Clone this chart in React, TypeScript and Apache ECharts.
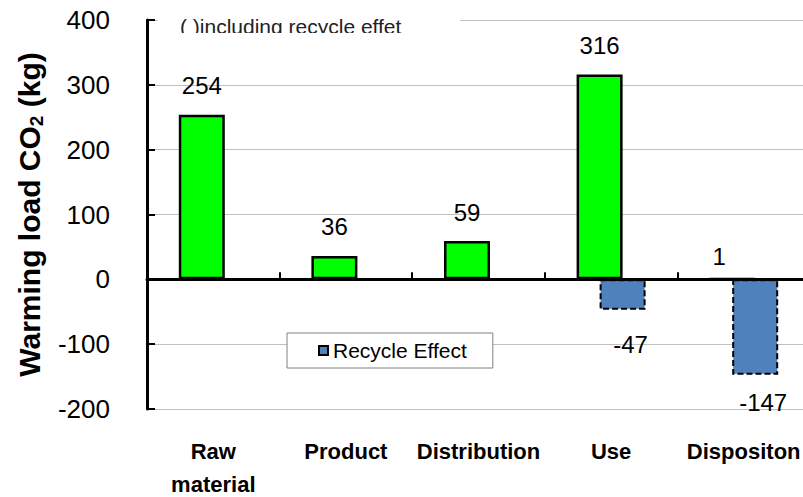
import React, { useEffect, useRef } from 'react';
import * as echarts from 'echarts';

const categories = ['Raw\nmaterial', 'Product', 'Distribution', 'Use', 'Dispositon'];
const warmingLoad: number[] = [254, 36, 59, 316, 1];
const recycleEffect: (number | null)[] = [null, null, null, -47, -147];
const yMin = -200;
const yMax = 400;
const yInterval = 100;
const legendLabel = 'Recycle Effect';
const noteText = '( )including recycle effet';
const axisNameRich = '{a|Warming load CO}{s|2}{a| (kg)}';

const FONT = '"Liberation Sans", Arial, Helvetica, sans-serif';

// label placement tweaks (index -> label overrides)
const greenLabelTweaks: Record<number, any> = {
  4: { distance: 9, offset: [-13, 0] },
};
const blueLabelTweaks: Record<number, any> = {
  3: { distance: 23 },
  4: { distance: 16 },
};

export default function App() {
  const ref = useRef<HTMLDivElement>(null);

  useEffect(() => {
    document.body.style.margin = '0';
    if (!ref.current) return;
    const chart = echarts.init(ref.current, undefined, { renderer: 'svg' });

    const option: any = {
      animation: false,
      backgroundColor: '#ffffff',
      textStyle: { fontFamily: FONT },
      grid: {
        left: 147,
        top: 20,
        width: 663,
        height: 389,
        containLabel: false,
        outerBoundsMode: 'none',
      },
      legend: {
        data: [legendLabel],
        left: 287,
        top: 333,
        orient: 'horizontal',
        backgroundColor: '#ffffff',
        borderColor: '#808080',
        borderWidth: 1,
        padding: [7, 26, 7, 31],
        itemWidth: 9,
        itemHeight: 9,
        icon: 'rect',
        selectedMode: false,
        itemStyle: { color: '#4F81BD', borderColor: '#000', borderWidth: 2, borderType: 'solid' },
        textStyle: { fontSize: 21, color: '#000', fontFamily: FONT },
      },
      xAxis: [
        {
          type: 'category',
          data: categories,
          position: 'bottom',
          axisLine: { show: false, onZero: false },
          axisTick: { show: false },
          splitLine: { show: false },
          axisLabel: {
            interval: 0,
            fontSize: 22,
            fontWeight: 'bold',
            color: '#000',
            lineHeight: 33,
            margin: 26,
            fontFamily: FONT,
          },
        },
        {
          type: 'category',
          data: categories,
          position: 'bottom',
          z: 10,
          axisLine: { show: true, onZero: true, lineStyle: { color: '#000', width: 3 } },
          axisTick: { show: true, inside: true, length: 7, lineStyle: { color: '#000', width: 2 } },
          axisLabel: { show: false },
          splitLine: { show: false },
        },
      ],
      yAxis: {
        type: 'value',
        min: yMin,
        max: yMax,
        interval: yInterval,
        name: axisNameRich,
        nameLocation: 'middle',
        nameRotate: 90,
        nameGap: 101,
        nameTextStyle: {
          color: '#000',
          fontFamily: FONT,
          padding: [0, 0, 0, 0],
          rich: {
            a: { fontSize: 30, fontWeight: 'bold', color: '#000', fontFamily: FONT, lineHeight: 34 },
            s: {
              fontSize: 19,
              fontWeight: 'bold',
              color: '#000',
              fontFamily: FONT,
              lineHeight: 19,
              verticalAlign: 'bottom',
            },
          },
        },
        axisLine: { show: true, onZero: false, lineStyle: { color: '#000', width: 3 } },
        axisTick: { show: true, inside: true, length: 8, lineStyle: { color: '#000', width: 2 } },
        axisLabel: { fontSize: 26, color: '#000', margin: 37, fontFamily: FONT },
        splitLine: { show: true, lineStyle: { color: '#c0c0c0', width: 1 } },
      },
      series: [
        {
          type: 'bar',
          name: 'Warming load',
          xAxisIndex: 0,
          yAxisIndex: 0,
          barWidth: 46,
          barGap: '-50%',
          data: warmingLoad.map((v, i) =>
            greenLabelTweaks[i] ? { value: v, label: greenLabelTweaks[i] } : v
          ),
          itemStyle: { color: '#00FF00', borderColor: '#000', borderWidth: 2.5 },
          label: {
            show: true,
            position: 'top',
            distance: 17,
            fontSize: 24,
            color: '#000',
            fontFamily: FONT,
          },
        },
        {
          type: 'bar',
          name: legendLabel,
          xAxisIndex: 0,
          yAxisIndex: 0,
          barWidth: 46,
          data: recycleEffect.map((v, i) =>
            v === null ? null : blueLabelTweaks[i] ? { value: v, label: blueLabelTweaks[i] } : v
          ),
          itemStyle: { color: '#4F81BD', borderColor: '#000', borderWidth: 2, borderType: [6, 3] },
          label: {
            show: true,
            position: 'bottom',
            distance: 16,
            offset: [8, 0],
            fontSize: 24,
            color: '#000',
            fontFamily: FONT,
          },
        },
      ],
      graphic: [
        {
          type: 'rect',
          z: 50,
          shape: { x: 158, y: 8, width: 302, height: 25 },
          style: { fill: '#ffffff' },
        },
        {
          type: 'text',
          z: 51,
          x: 180,
          y: 26,
          style: {
            text: noteText,
            fontSize: 21,
            fontFamily: FONT,
            fill: '#222',
            verticalAlign: 'middle',
            align: 'left',
          },
        },
        {
          type: 'rect',
          z: 52,
          shape: { x: 170, y: 33, width: 260, height: 8 },
          style: { fill: '#ffffff' },
        },
      ],
    };

    chart.setOption(option);
    return () => {
      chart.dispose();
    };
  }, []);

  return (
    <div
      ref={ref}
      style={{ position: 'absolute', left: 0, top: 0, width: 803, height: 497 }}
    />
  );
}
